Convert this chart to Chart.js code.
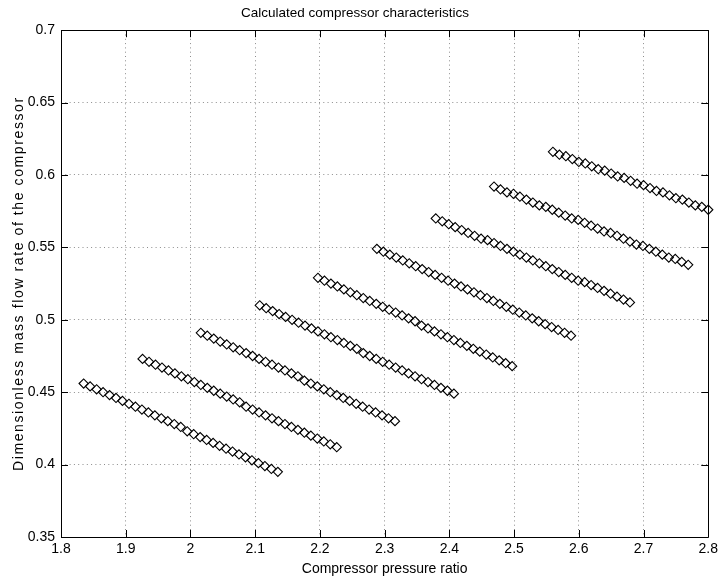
<!DOCTYPE html>
<html>
<head>
<meta charset="utf-8">
<script src="https://cdn.jsdelivr.net/npm/chart.js@4/dist/chart.umd.min.js"></script>
<style>
body { margin: 0; background: #fff; }
</style>
</head>
<body>
<canvas id="chartHolder" width="722" height="580"></canvas>
<script>
const chartHolder = document.getElementById("chartHolder");

// one row per speed line
const pressureRatio = [
    [1.835,1.845,1.855,1.865,1.875,1.885,1.895,1.905,1.915,1.925,1.935,1.945,1.955,1.965,1.975,1.985,1.995,2.005,2.015,2.025,2.035,2.045,2.055,2.065,2.075,2.085,2.095,2.105,2.115,2.125,2.135],
    [1.926,1.936,1.946,1.956,1.966,1.976,1.986,1.996,2.006,2.016,2.026,2.036,2.046,2.056,2.066,2.076,2.086,2.096,2.106,2.116,2.126,2.136,2.146,2.156,2.166,2.176,2.186,2.196,2.206,2.216,2.226],
    [2.016,2.026,2.036,2.046,2.056,2.066,2.076,2.086,2.096,2.106,2.116,2.126,2.136,2.146,2.156,2.166,2.176,2.186,2.196,2.206,2.216,2.226,2.236,2.246,2.256,2.266,2.276,2.286,2.296,2.306,2.316],
    [2.107,2.117,2.127,2.137,2.147,2.157,2.167,2.177,2.187,2.197,2.207,2.217,2.227,2.237,2.247,2.257,2.267,2.277,2.287,2.297,2.307,2.317,2.327,2.337,2.347,2.357,2.367,2.377,2.387,2.397,2.407],
    [2.197,2.207,2.217,2.227,2.237,2.247,2.257,2.267,2.277,2.287,2.297,2.307,2.317,2.327,2.337,2.347,2.357,2.367,2.377,2.387,2.397,2.407,2.417,2.427,2.437,2.447,2.457,2.467,2.477,2.487,2.497],
    [2.288,2.298,2.308,2.318,2.328,2.338,2.348,2.358,2.368,2.378,2.388,2.398,2.408,2.418,2.428,2.438,2.448,2.458,2.468,2.478,2.488,2.498,2.508,2.518,2.528,2.538,2.548,2.558,2.568,2.578,2.588],
    [2.379,2.389,2.399,2.409,2.419,2.429,2.439,2.449,2.459,2.469,2.479,2.489,2.499,2.509,2.519,2.529,2.539,2.549,2.559,2.569,2.579,2.589,2.599,2.609,2.619,2.629,2.639,2.649,2.659,2.669,2.679],
    [2.469,2.479,2.489,2.499,2.509,2.519,2.529,2.539,2.549,2.559,2.569,2.579,2.589,2.599,2.609,2.619,2.629,2.639,2.649,2.659,2.669,2.679,2.689,2.699,2.709,2.719,2.729,2.739,2.749,2.759,2.769],
    [2.560,2.570,2.580,2.590,2.600,2.610,2.620,2.630,2.640,2.650,2.660,2.670,2.680,2.690,2.700,2.710,2.720,2.730,2.740,2.750,2.760,2.770,2.780,2.790,2.800]
];

const massFlow = [
    [0.456,0.454,0.452,0.450,0.448,0.446,0.444,0.442,0.440,0.438,0.436,0.434,0.432,0.430,0.428,0.426,0.423,0.421,0.419,0.417,0.415,0.413,0.411,0.409,0.407,0.405,0.403,0.401,0.399,0.397,0.395],
    [0.473,0.471,0.469,0.467,0.465,0.463,0.461,0.459,0.457,0.455,0.453,0.451,0.449,0.447,0.445,0.443,0.440,0.438,0.436,0.434,0.432,0.430,0.428,0.426,0.424,0.422,0.420,0.418,0.416,0.414,0.412],
    [0.491,0.489,0.487,0.485,0.483,0.481,0.479,0.477,0.475,0.473,0.471,0.469,0.467,0.465,0.463,0.461,0.458,0.456,0.454,0.452,0.450,0.448,0.446,0.444,0.442,0.440,0.438,0.436,0.434,0.432,0.430],
    [0.510,0.508,0.506,0.504,0.502,0.500,0.498,0.496,0.494,0.492,0.490,0.488,0.486,0.484,0.482,0.480,0.477,0.475,0.473,0.471,0.469,0.467,0.465,0.463,0.461,0.459,0.457,0.455,0.453,0.451,0.449],
    [0.529,0.527,0.525,0.523,0.521,0.519,0.517,0.515,0.513,0.511,0.509,0.507,0.505,0.503,0.501,0.499,0.496,0.494,0.492,0.490,0.488,0.486,0.484,0.482,0.480,0.478,0.476,0.474,0.472,0.470,0.468],
    [0.549,0.547,0.545,0.543,0.541,0.539,0.537,0.535,0.533,0.531,0.529,0.527,0.525,0.523,0.521,0.519,0.517,0.515,0.513,0.511,0.509,0.507,0.505,0.503,0.501,0.499,0.497,0.495,0.493,0.491,0.489],
    [0.570,0.568,0.566,0.564,0.562,0.560,0.558,0.556,0.555,0.553,0.551,0.549,0.547,0.545,0.543,0.541,0.539,0.537,0.535,0.533,0.531,0.529,0.527,0.526,0.524,0.522,0.520,0.518,0.516,0.514,0.512],
    [0.592,0.590,0.588,0.587,0.585,0.583,0.581,0.579,0.578,0.576,0.574,0.572,0.570,0.569,0.567,0.565,0.563,0.561,0.560,0.558,0.556,0.554,0.552,0.551,0.549,0.547,0.545,0.543,0.542,0.540,0.538],
    [0.616,0.614,0.613,0.611,0.609,0.608,0.606,0.604,0.603,0.601,0.599,0.598,0.596,0.594,0.593,0.591,0.589,0.588,0.586,0.584,0.583,0.581,0.579,0.578,0.576]
];

const xTickValues = [1.8, 1.9, 2.0, 2.1, 2.2, 2.3, 2.4, 2.5, 2.6, 2.7, 2.8];
const yTickValues = [0.35, 0.4, 0.45, 0.5, 0.55, 0.6, 0.65, 0.7];

const titleText = "Calculated compressor characteristics";
const xTitle = "Compressor pressure ratio";
const yTitle = "Dimensionless mass flow rate of the compressor";

const fontFamily = "'Liberation Sans', Arial, Helvetica, sans-serif";


// matlab style box with inward ticks on all four sides, plus the rotated y label
const boxPlugin = {
    id: "box",
    afterDraw(chart)
    {
        const ctx = chart.ctx;
        const area = chart.chartArea;
        const xs = chart.scales.x;
        const ys = chart.scales.y;
        const len = 7;

        ctx.save();
        ctx.strokeStyle = "#000";
        ctx.lineWidth = 1;
        ctx.beginPath();
        ctx.rect(Math.round(area.left) + 0.5, Math.round(area.top) + 0.5,
                 Math.round(area.right - area.left), Math.round(area.bottom - area.top));

        xTickValues.forEach(v => {
            const px = Math.round(xs.getPixelForValue(v)) + 0.5;
            ctx.moveTo(px, area.bottom);
            ctx.lineTo(px, area.bottom - len);
            ctx.moveTo(px, area.top);
            ctx.lineTo(px, area.top + len);
        });
        yTickValues.forEach(v => {
            const py = Math.round(ys.getPixelForValue(v)) + 0.5;
            ctx.moveTo(area.left, py);
            ctx.lineTo(area.left + len, py);
            ctx.moveTo(area.right, py);
            ctx.lineTo(area.right - len, py);
        });
        ctx.stroke();

        ctx.translate(23, (area.top + area.bottom) / 2);
        ctx.rotate(-Math.PI / 2);
        ctx.fillStyle = "#000";
        ctx.font = "14px " + fontFamily;
        if ("letterSpacing" in ctx) ctx.letterSpacing = "1.6px";
        ctx.textAlign = "center";
        ctx.textBaseline = "alphabetic";
        ctx.fillText(yTitle, 0, 0);
        ctx.restore();
    }
};


function makeDatasets()
{
    return pressureRatio.map((xs, i) => ({
        data: xs.map((x, j) => ({ x: x, y: massFlow[i][j] })),
        pointStyle: "rectRot",
        pointRadius: 4.6,
        pointHoverRadius: 4.6,
        borderColor: "#000",
        backgroundColor: "rgba(0,0,0,0)",
        borderWidth: 1.1,
        clip: false
    }));
}

const gridOpts = {
    color: "rgba(0,0,0,0.45)",
    lineWidth: 1,
    drawTicks: false
};

new Chart(chartHolder, {
    type: "scatter",
    data: { datasets: makeDatasets() },
    plugins: [boxPlugin],
    options: {
        responsive: false,
        animation: false,
        devicePixelRatio: 1,
        layout: { padding: { left: 0, right: 12, top: 0, bottom: 0 } },
        plugins: {
            legend: { display: false },
            tooltip: { enabled: false },
            title: {
                display: true,
                text: titleText,
                color: "#000",
                font: { family: fontFamily, size: 13.5, weight: "normal" },
                padding: { top: 5, bottom: 9 }
            }
        },
        scales: {
            x: {
                type: "linear",
                min: 1.8,
                max: 2.8,
                afterBuildTicks: s => { s.ticks = xTickValues.map(v => ({ value: v })); },
                afterFit: s => { s.height = 43; },
                grid: gridOpts,
                border: { display: false, dash: [1, 3.3] },
                ticks: {
                    color: "#000",
                    padding: 4,
                    maxRotation: 0,
                    font: { family: fontFamily, size: 14 },
                    callback: v => String(+v.toFixed(2))
                },
                title: {
                    display: true,
                    text: xTitle,
                    color: "#000",
                    padding: { top: 0, bottom: 2 },
                    font: { family: fontFamily, size: 14 }
                }
            },
            y: {
                type: "linear",
                min: 0.35,
                max: 0.7,
                afterBuildTicks: s => { s.ticks = yTickValues.map(v => ({ value: v })); },
                afterFit: s => { s.width = 61; },
                grid: gridOpts,
                border: { display: false, dash: [1, 3.3] },
                ticks: {
                    color: "#000",
                    padding: 6,
                    font: { family: fontFamily, size: 14 },
                    callback: v => String(+v.toFixed(2))
                }
            }
        }
    }
});
</script>
</body>
</html>
